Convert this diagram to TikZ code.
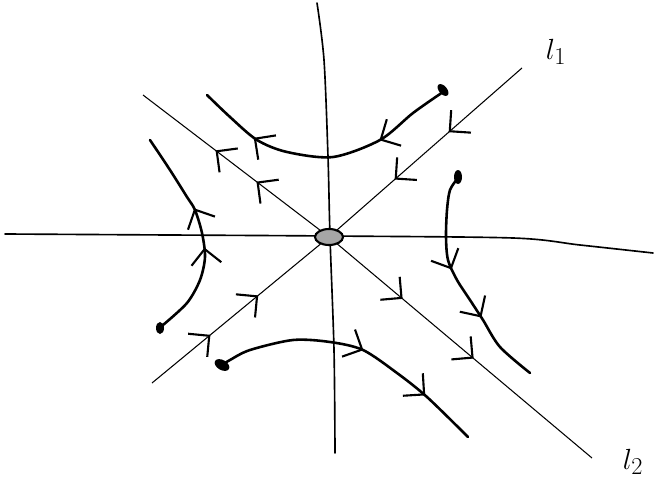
\documentclass[tikz,border=0pt]{standalone}
\usetikzlibrary{arrows.meta,decorations.markings}
\tikzset{
  eje/.style={line width=1.4pt, line cap=round},
  recta/.style={line width=0.9pt},
  orbita/.style={line width=2.2pt, line cap=round, line join=round},
  barba/.tip={Straight Barb[length=4.5mm,width=9mm,line width=1.8pt]},
  flechas/.style 2 args={postaction=decorate, decoration={markings,
      mark=at position #1 with {\arrow{barba}},
      mark=at position #2 with {\arrow{barba}}}},
  punto/.style={fill=black},
}
\begin{document}
\begin{tikzpicture}[x=0.03cm, y=-0.03cm]
    \useasboundingbox (0,0) rectangle (656,480);
    % punto silla
    \coordinate (O) at (329,237);

    % ejes
    \draw[eje] plot[smooth] coordinates {(5,234) (170,235) (329,236) (513,238) (580,245) (653,253)};
    \draw[eje] plot[smooth] coordinates {(317,3) (324,60) (328,157) (330,237) (334,350) (335,453)};

    % rectas invariantes l1 (estable) y l2 (inestable)
    \coordinate (l1a) at (522,68);
    \coordinate (l1b) at (152,383);
    \coordinate (l2a) at (143,95);
    \coordinate (l2b) at (592,458);
    \draw[recta, flechas={0.38}{0.66}] (l1a) -- (O);
    \draw[recta, flechas={0.33}{0.6}] (l1b) -- (O);
    \draw[recta, flechas={0.39}{0.61}] (O) -- (l2a);
    \draw[recta, flechas={0.28}{0.55}] (O) -- (l2b);

    % etiquetas
    \node[font=\Huge] (L1) at (556,52) {$l_1$};
    \node[font=\Huge] (L2) at (633,462) {$l_2$};

    % trayectorias
    \draw[orbita, flechas={0.29}{0.77}] plot[smooth] coordinates
        {(443,92) (413,113) (380,140) (333,157) (287,152) (257,140) (230,117) (207,95)};
    \draw[orbita, flechas={0.43}{0.62}] plot[smooth] coordinates
        {(163,325) (187,303) (200,280) (205,257) (202,233) (195,210) (187,197) (170,170) (150,140)};
    \draw[orbita, flechas={0.42}{0.67}] plot[smooth] coordinates
        {(458,178) (450,190) (447,210) (446,237) (448,260) (457,280) (470,300) (483,320) (500,347) (530,373)};
    \draw[orbita, flechas={0.52}{0.79}] plot[smooth] coordinates
        {(222,365) (230,360) (250,350) (293,340) (330,342) (363,350) (397,373) (427,397) (468,437)};

    % puntos iniciales
    \fill[punto, rotate around={40:(443,90)}] (443,90) ellipse [x radius=4, y radius=7];
    \fill[punto] (160,328) ellipse [x radius=4, y radius=6];
    \fill[punto] (458,177) ellipse [x radius=4, y radius=7];
    \fill[punto, rotate around={60:(222,365)}] (222,365) ellipse [x radius=5, y radius=8];

    % silla en el origen
    \draw[line width=1.8pt, fill=gray!70] (O) ellipse [x radius=14, y radius=8];
\end{tikzpicture}
\end{document}
